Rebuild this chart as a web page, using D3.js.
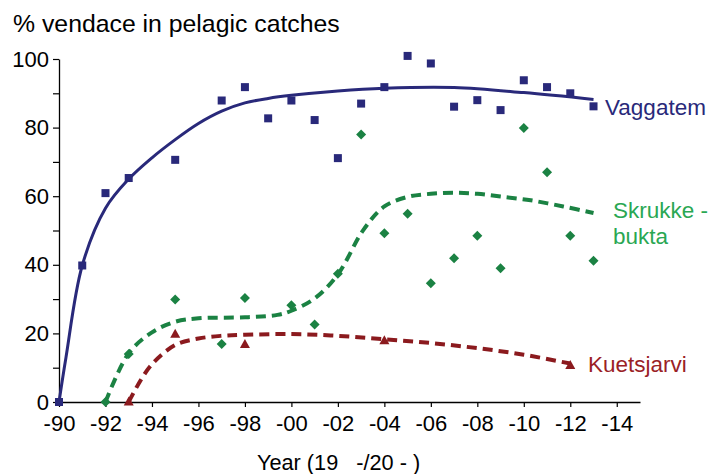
<!DOCTYPE html>
<html>
<head>
<meta charset="utf-8">
<script src="https://cdn.jsdelivr.net/npm/d3@7"></script>
<style>
  html, body { margin: 0; padding: 0; background: #fff; }
  svg { display: block; }
  text { font-family: "Liberation Sans", Arial, sans-serif; }
</style>
</head>
<body>
<svg id="chart" width="712" height="474"></svg>
<script>
// ---------- data ----------
const vagYears = [1990,1991,1992,1993,1995,1997,1998,1999,2000,2001,2002,2003,2004,2005,2006,2007,2008,2009,2010,2011,2012,2013];
const vagValues = [0,39.8,60.9,65.3,70.6,87.9,91.8,82.7,87.9,82.2,71.1,87.0,91.8,100.9,98.7,86.1,88.0,85.1,93.8,91.8,90.0,86.2];

const skrYears = [1992,1993,1995,1997,1998,2000,2001,2002,2003,2004,2005,2006,2007,2008,2009,2010,2011,2012,2013];
const skrValues = [0,14.0,29.9,16.9,30.3,28.2,22.6,37.4,78.0,49.2,54.9,34.6,41.9,48.5,39.0,79.9,67.0,48.5,41.2];

const kueYears = [1993,1995,1998,2004,2012];
const kueValues = [0,19.8,16.8,17.9,10.7];

// fitted trend curves
const vagFitYears = [1990,1990.3,1991,1992,1993,1994,1995,1996,1997,1998,1999,2000,2002,2004,2007,2010,2013];
const vagFitValues = [0,13,39.8,56.5,65,71.2,76.5,81.2,84.8,87.2,88.5,89.4,90.7,91.5,91.7,90.2,88.2];

const skrFitYears = [1992,1993,1994,1995,1996,1998,1999.4,2000,2001,2002,2003.1,2004,2005,2006,2007,2008,2009,2010.3,2011.7,2013];
const skrFitValues = [0,14.2,20.3,23.4,24.4,24.7,25.4,26.6,30.2,37.2,50.2,57,59.8,60.7,61,60.7,59.9,58.8,57,55.1];

const kueFitYears = [1993,1993.9,1995,1996,1997,1998,2000,2002,2004,2006,2008,2010,2012];
const kueFitValues = [0,10.2,16.6,18.5,19.3,19.6,19.8,19.3,18.3,17.2,15.7,13.8,11.2];

const xTickYears = [1990,1992,1994,1996,1998,2000,2002,2004,2006,2008,2010,2012,2014];
const xTickLabels = ["-90","-92","-94","-96","-98","-00","-02","-04","-06","-08","-10","-12","-14"];
const yTickValues = [0,10,20,30,40,50,60,70,80,90,100];
const yLabelValues = [0,20,40,60,80,100];

const seriesNames = ["Vaggatem", "Skrukke -", "bukta", "Kuetsjarvi"];
const titleText = "% vendace in pelagic catches";
const xTitleText = "Year (19   -/20 - )";

// ---------- drawing ----------
const svg = d3.select("#chart");
const x = d3.scaleLinear().domain([1990, 2015]).range([59, 640]);
const y = d3.scaleLinear().domain([0, 100]).range([402, 59]);

const navy = "#29297a", green = "#1b8243", greenLabel = "#2aa753", red = "#8b1a1e", redLabel = "#9a2126";

// axes
const xAxis = d3.axisBottom(x).tickValues(xTickYears)
  .tickFormat((d, i) => xTickLabels[i]).tickSize(5).tickSizeOuter(0).tickPadding(8);
const gx = svg.append("g").attr("transform", `translate(0,${y(0)})`).call(xAxis);
gx.select(".domain").attr("stroke", "#000").attr("stroke-width", 1.3);
gx.selectAll(".tick line").attr("stroke", "#000").attr("stroke-width", 1.2);
gx.selectAll("text").attr("font-size", 22).attr("fill", "#000")
  .attr("font-family", "Liberation Sans, Arial, sans-serif");

const yAxis = d3.axisLeft(y).tickValues(yTickValues)
  .tickFormat(d => yLabelValues.includes(d) ? d : "").tickSize(6).tickSizeOuter(0).tickPadding(4);
const gy = svg.append("g").attr("transform", `translate(${x(1990)},0)`).call(yAxis);
gy.select(".domain").attr("stroke", "#000").attr("stroke-width", 1.3);
gy.selectAll(".tick line").attr("stroke", "#000").attr("stroke-width", 1.2);
gy.selectAll("text").attr("font-size", 22).attr("fill", "#000")
  .attr("font-family", "Liberation Sans, Arial, sans-serif");

// titles
svg.append("text").attr("x", 13).attr("y", 32).attr("font-size", 24.8).attr("fill", "#000").text(titleText);
svg.append("text").attr("x", 257).attr("y", 470).attr("font-size", 21.7).attr("fill", "#000")
  .style("white-space", "pre").text(xTitleText);

// trend lines
const line = d3.line().x(d => x(d[0])).y(d => y(d[1])).curve(d3.curveCatmullRom.alpha(0.5));
const zip = (a, b) => a.map((v, i) => [v, b[i]]);

svg.append("path").datum(zip(vagFitYears, vagFitValues)).attr("d", line)
  .attr("fill", "none").attr("stroke", navy).attr("stroke-width", 3);
svg.append("path").datum(zip(skrFitYears, skrFitValues)).attr("d", line)
  .attr("fill", "none").attr("stroke", green).attr("stroke-width", 4).attr("stroke-dasharray", "10,6");
svg.append("path").datum(zip(kueFitYears, kueFitValues)).attr("d", line)
  .attr("fill", "none").attr("stroke", red).attr("stroke-width", 4).attr("stroke-dasharray", "10,6");

// markers
svg.append("g").selectAll("rect").data(zip(vagYears, vagValues)).join("rect")
  .attr("x", d => x(d[0]) - 4).attr("y", d => y(d[1]) - 4).attr("width", 8).attr("height", 8)
  .attr("fill", navy);

const diamond = (cx, cy, r) => `M${cx},${cy - r}L${cx + r},${cy}L${cx},${cy + r}L${cx - r},${cy}Z`;
svg.append("g").selectAll("path").data(zip(skrYears, skrValues)).join("path")
  .attr("d", d => diamond(x(d[0]), y(d[1]), 5)).attr("fill", green);

const tri = (cx, cy, w, h) => `M${cx},${cy - h * 0.6}L${cx + w / 2},${cy + h * 0.4}L${cx - w / 2},${cy + h * 0.4}Z`;
svg.append("g").selectAll("path").data(zip(kueYears, kueValues)).join("path")
  .attr("d", d => tri(x(d[0]), y(d[1]), 10, 9)).attr("fill", red);

// series labels
const lab = (txt, xx, yy, col) => svg.append("text").attr("x", xx).attr("y", yy)
  .attr("font-family", "DejaVu Sans Condensed, DejaVu Sans, sans-serif")
  .attr("font-size", 22.5).attr("fill", col).text(txt);
lab(seriesNames[0], 605, 115, navy);
lab(seriesNames[1], 613, 218, greenLabel);
lab(seriesNames[2], 613, 244, greenLabel);
lab(seriesNames[3], 588, 372, redLabel);
</script>
</body>
</html>
